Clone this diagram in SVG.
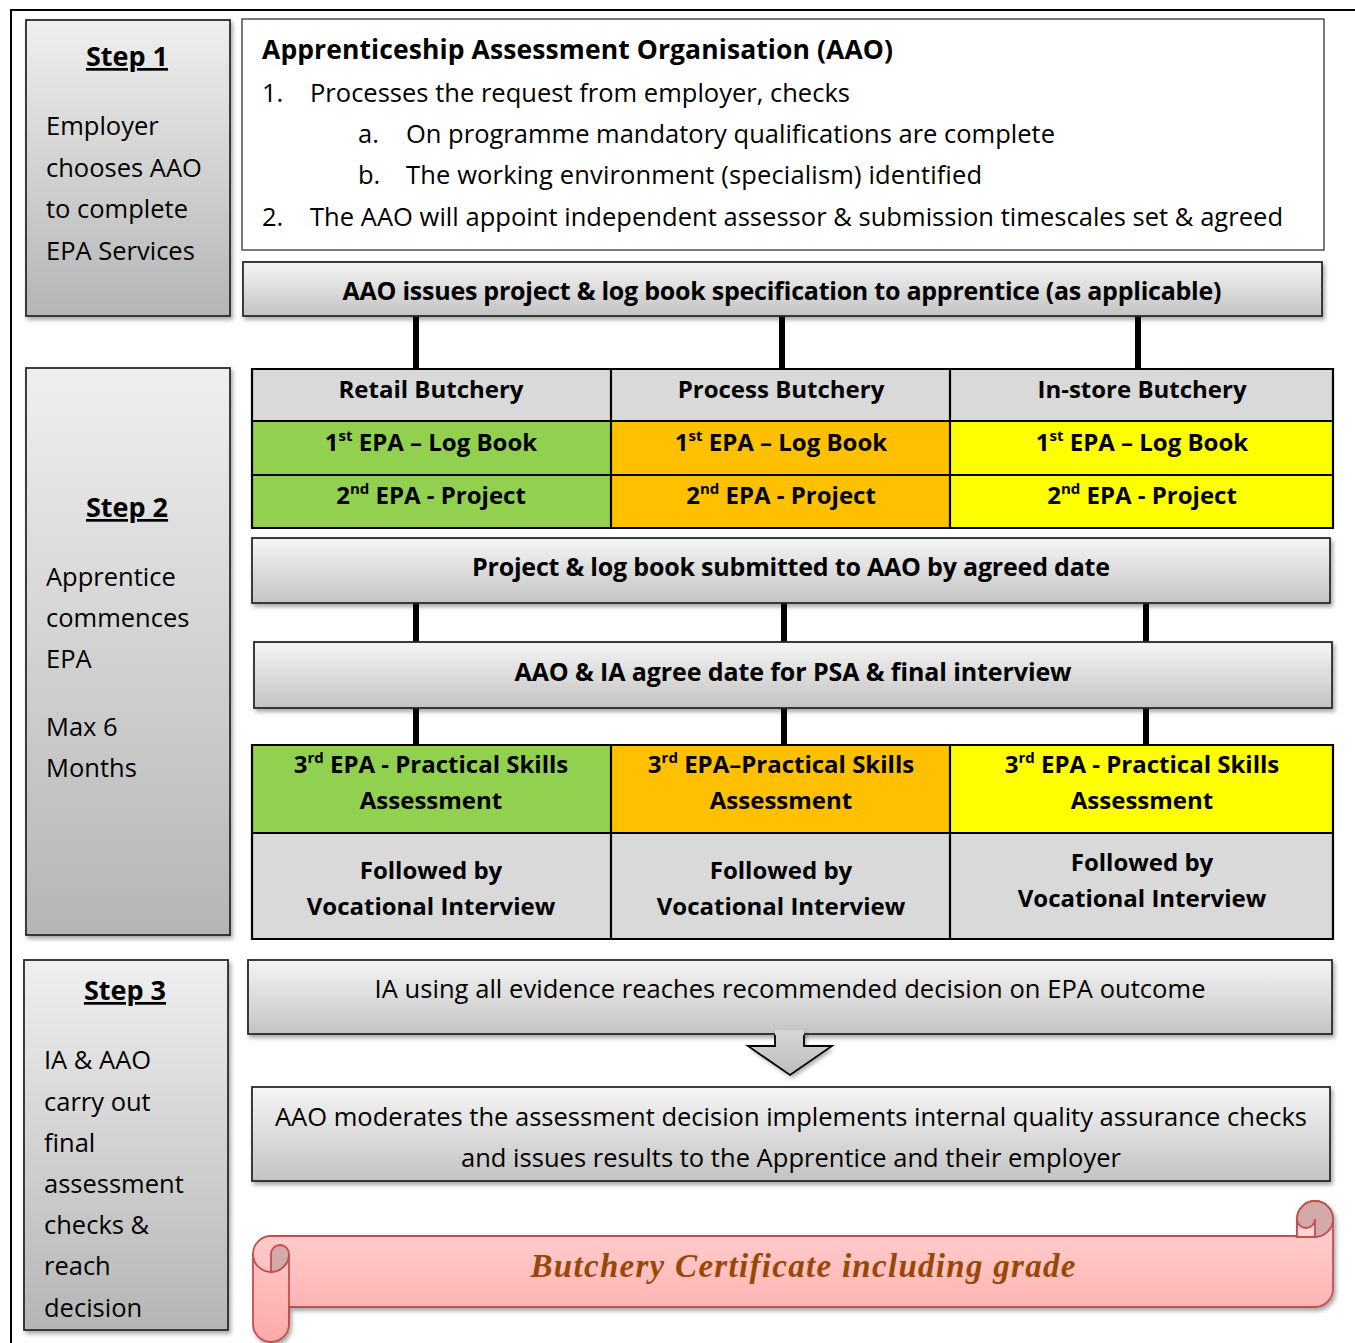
<svg xmlns="http://www.w3.org/2000/svg" width="1355" height="1343" viewBox="0 0 1355 1343">
<defs>
<style>
.t{font-family:"Open Sans","Liberation Sans",sans-serif;font-size:25.5px;fill:#000}
.b{font-family:"Open Sans","Liberation Sans",sans-serif;font-size:24px;font-weight:bold;fill:#000}
.bl{font-size:25px}
.h{font-family:"Open Sans","Liberation Sans",sans-serif;font-size:27px;font-weight:bold;fill:#000;text-decoration:underline}
.m{text-anchor:middle}
.box{fill:url(#gBox);stroke:#2b2b2b;stroke-width:1.8}
.step{fill:url(#gStep);stroke:#2b2b2b;stroke-width:1.8}
.cell{stroke:none}
.grid{stroke:#000;stroke-width:2.2;fill:none}
.conn{stroke:#000;stroke-width:6;fill:none}
.scr{stroke:#c0504d;stroke-width:1.8}
</style>
<linearGradient id="gBox" x1="0" y1="0" x2="0" y2="1">
<stop offset="0" stop-color="#f5f5f5"/><stop offset="1" stop-color="#c3c3c3"/>
</linearGradient>
<linearGradient id="gStep" x1="0" y1="0" x2="0" y2="1">
<stop offset="0" stop-color="#efefef"/><stop offset="1" stop-color="#b5b5b5"/>
</linearGradient>
<linearGradient id="gArrow" x1="0" y1="0" x2="0" y2="1">
<stop offset="0" stop-color="#d6d6d6"/><stop offset="1" stop-color="#bdbdbd"/>
</linearGradient>
<linearGradient id="gScroll" x1="0" y1="0" x2="0" y2="1">
<stop offset="0" stop-color="#ffd6d6"/><stop offset="1" stop-color="#ffa9a9"/>
</linearGradient>
<filter id="sh" x="-5%" y="-5%" width="115%" height="130%">
<feDropShadow dx="2" dy="3" stdDeviation="2" flood-color="#000" flood-opacity="0.35"/>
</filter>
</defs>

<rect width="1355" height="1343" fill="#fff"/>
<path d="M11,1343 V10 H1355" fill="none" stroke="#000" stroke-width="2"/>

<g id="connectors">
<line class="conn" x1="416" y1="316" x2="416" y2="369"/>
<line class="conn" x1="782" y1="316" x2="782" y2="369"/>
<line class="conn" x1="1138" y1="316" x2="1138" y2="369"/>
<line class="conn" x1="416" y1="603" x2="416" y2="642"/>
<line class="conn" x1="784" y1="603" x2="784" y2="642"/>
<line class="conn" x1="1146" y1="603" x2="1146" y2="642"/>
<line class="conn" x1="416" y1="708" x2="416" y2="745"/>
<line class="conn" x1="784" y1="708" x2="784" y2="745"/>
<line class="conn" x1="1146" y1="708" x2="1146" y2="745"/>
</g>

<g id="step1">
<rect class="step" x="26" y="20" width="204" height="296" filter="url(#sh)"/>
<text class="h m" x="127" y="66">Step 1</text>
<text class="t" x="46" y="135">Employer</text>
<text class="t" x="46" y="177">chooses AAO</text>
<text class="t" x="46" y="218">to complete</text>
<text class="t" x="46" y="260">EPA Services</text>
</g>

<g id="aao">
<rect x="242" y="19" width="1082" height="231" fill="#fff" stroke="#333" stroke-width="1.3"/>
<text class="b" x="262" y="59" style="font-size:26.5px" textLength="631">Apprenticeship Assessment Organisation (AAO)</text>
<text class="t" x="262" y="102">1.</text>
<text class="t" x="310" y="102" textLength="540">Processes the request from employer, checks</text>
<text class="t" x="358" y="143">a.</text>
<text class="t" x="406" y="143" textLength="649">On programme mandatory qualifications are complete</text>
<text class="t" x="358" y="184">b.</text>
<text class="t" x="406" y="184" textLength="576">The working environment (specialism) identified</text>
<text class="t" x="262" y="226">2.</text>
<text class="t" x="310" y="226" textLength="973">The AAO will appoint independent assessor &amp; submission timescales set &amp; agreed</text>
</g>

<g id="issues">
<rect class="box" x="243" y="262" width="1079" height="54" filter="url(#sh)"/>
<text class="b bl m" x="782" y="300" textLength="879">AAO issues project &amp; log book specification to apprentice (as applicable)</text>
</g>

<g id="step2">
<rect class="step" x="26" y="368" width="204" height="567" filter="url(#sh)"/>
<text class="h m" x="127" y="517">Step 2</text>
<text class="t" x="46" y="586">Apprentice</text>
<text class="t" x="46" y="627">commences</text>
<text class="t" x="46" y="668">EPA</text>
<text class="t" x="46" y="736">Max 6</text>
<text class="t" x="46" y="777">Months</text>
</g>

<g id="table1">
<rect class="cell" x="252" y="369" width="1081" height="52" fill="#d9d9d9"/>
<rect class="cell" x="252" y="421" width="359" height="107" fill="#92d050"/>
<rect class="cell" x="611" y="421" width="339" height="107" fill="#ffc000"/>
<rect class="cell" x="950" y="421" width="383" height="107" fill="#ffff00"/>
<path class="grid" d="M252,369 H1333 V528 H252 Z M611,369 V528 M950,369 V528 M252,421 H1333 M252,475 H1333"/>
<text class="b m" x="431" y="398">Retail Butchery</text>
<text class="b m" x="781" y="398">Process Butchery</text>
<text class="b m" x="1142" y="398">In-store Butchery</text>
<text class="b m" x="431" y="451">1<tspan font-size="15" dy="-10">st</tspan><tspan dy="10"> EPA – Log Book</tspan></text>
<text class="b m" x="781" y="451">1<tspan font-size="15" dy="-10">st</tspan><tspan dy="10"> EPA – Log Book</tspan></text>
<text class="b m" x="1142" y="451">1<tspan font-size="15" dy="-10">st</tspan><tspan dy="10"> EPA – Log Book</tspan></text>
<text class="b m" x="431" y="504">2<tspan font-size="15" dy="-10">nd</tspan><tspan dy="10"> EPA - Project</tspan></text>
<text class="b m" x="781" y="504">2<tspan font-size="15" dy="-10">nd</tspan><tspan dy="10"> EPA - Project</tspan></text>
<text class="b m" x="1142" y="504">2<tspan font-size="15" dy="-10">nd</tspan><tspan dy="10"> EPA - Project</tspan></text>
</g>

<g id="submitted">
<rect class="box" x="252" y="538" width="1078" height="65" filter="url(#sh)"/>
<text class="b bl m" x="791" y="576" textLength="638">Project &amp; log book submitted to AAO by agreed date</text>
</g>

<g id="agree">
<rect class="box" x="254" y="642" width="1078" height="66" filter="url(#sh)"/>
<text class="b bl m" x="793" y="681" textLength="557">AAO &amp; IA agree date for PSA &amp; final interview</text>
</g>

<g id="table2">
<rect class="cell" x="252" y="745" width="359" height="88" fill="#92d050"/>
<rect class="cell" x="611" y="745" width="339" height="88" fill="#ffc000"/>
<rect class="cell" x="950" y="745" width="383" height="88" fill="#ffff00"/>
<rect class="cell" x="252" y="833" width="1081" height="106" fill="#d9d9d9"/>
<path class="grid" d="M252,745 H1333 V939 H252 Z M611,745 V939 M950,745 V939 M252,833 H1333"/>
<text class="b m" x="431" y="773">3<tspan font-size="15" dy="-10">rd</tspan><tspan dy="10"> EPA - Practical Skills</tspan></text>
<text class="b m" x="431" y="809">Assessment</text>
<text class="b m" x="781" y="773">3<tspan font-size="15" dy="-10">rd</tspan><tspan dy="10"> EPA–Practical Skills</tspan></text>
<text class="b m" x="781" y="809">Assessment</text>
<text class="b m" x="1142" y="773">3<tspan font-size="15" dy="-10">rd</tspan><tspan dy="10"> EPA - Practical Skills</tspan></text>
<text class="b m" x="1142" y="809">Assessment</text>
<text class="b m" x="431" y="879">Followed by</text>
<text class="b m" x="431" y="915">Vocational Interview</text>
<text class="b m" x="781" y="879">Followed by</text>
<text class="b m" x="781" y="915">Vocational Interview</text>
<text class="b m" x="1142" y="871">Followed by</text>
<text class="b m" x="1142" y="907">Vocational Interview</text>
</g>

<g id="step3">
<rect class="step" x="24" y="960" width="204" height="370" filter="url(#sh)"/>
<text class="h m" x="125" y="1000">Step 3</text>
<text class="t" x="44" y="1069">IA &amp; AAO</text>
<text class="t" x="44" y="1111">carry out</text>
<text class="t" x="44" y="1152">final</text>
<text class="t" x="44" y="1193">assessment</text>
<text class="t" x="44" y="1234">checks &amp;</text>
<text class="t" x="44" y="1275">reach</text>
<text class="t" x="44" y="1317">decision</text>
</g>

<g id="evidence">
<rect class="box" x="248" y="960" width="1084" height="74" filter="url(#sh)"/>
<text class="t m" x="790" y="998" textLength="831">IA using all evidence reaches recommended decision on EPA outcome</text>
</g>

<g id="arrow">
<path d="M775,1030 H804 V1046 H832 L790,1075 L748,1046 H775 Z" fill="url(#gArrow)" filter="url(#sh)"/>
<path d="M775,1035 V1046 H748 L790,1075 L832,1046 H804 V1035" fill="none" stroke="#000" stroke-width="1.8" stroke-linejoin="miter"/>
</g>

<g id="moderates">
<rect class="box" x="252" y="1087" width="1078" height="94" filter="url(#sh)"/>
<text class="t m" x="791" y="1126" textLength="1032">AAO moderates the assessment decision implements internal quality assurance checks</text>
<text class="t m" x="791" y="1167" textLength="660">and issues results to the Apprentice and their employer</text>
</g>

<g id="certificate">
<path class="scr" fill="url(#gScroll)" filter="url(#sh)" d="M271,1236 H1297 V1219 A18,18 0 0,1 1333,1219 V1289 A18,18 0 0,1 1315,1307 H289 V1324 A18,18 0 0,1 253,1324 V1254 A18,18 0 0,1 271,1236 Z"/>
<path class="scr" fill="#d4a9a9" d="M1297,1219 A18,18 0 0,1 1333,1219 A18,18 0 0,1 1297,1219 Z"/>
<path class="scr" fill="#ffd4d4" d="M1297,1219 A9,9 0 0,0 1315,1219 V1237 H1297 Z"/>
<path class="scr" fill="none" d="M253,1254 A18,18 0 0,0 289,1254 V1324"/>
<path class="scr" fill="#d4a9a9" d="M271,1254 A9,9 0 0,1 289,1254 A18,18 0 0,1 271,1272 Z"/>
<text x="803" y="1277" text-anchor="middle" textLength="545" style="font-family:'Liberation Serif','DejaVu Serif',serif;font-size:33px;font-weight:bold;font-style:italic;fill:#984806">Butchery Certificate including grade</text>
</g>
</svg>
